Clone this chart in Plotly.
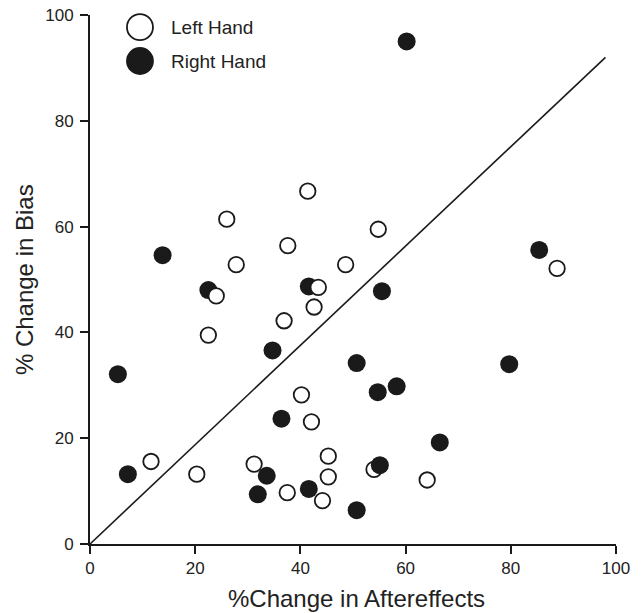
import plotly.graph_objects as go

# ---- data ----
left_x = [41.4, 26.0, 37.6, 27.8, 48.6, 54.8, 88.8, 24.0, 43.4, 42.6, 36.9, 22.5,
          40.2, 42.1, 45.3, 11.6, 31.2, 20.3, 45.3, 37.5, 44.2, 54.0, 64.1]
left_y = [66.7, 61.4, 56.4, 52.8, 52.8, 59.5, 52.1, 46.9, 48.5, 44.8, 42.2, 39.5,
          28.2, 23.1, 16.6, 15.6, 15.1, 13.2, 12.7, 9.7, 8.2, 14.1, 12.1]

# right-hand points drawn underneath the open circles
right_back_x = [22.5, 41.6]
right_back_y = [48.0, 48.7]
# right-hand points drawn on top
right_x = [13.8, 60.2, 85.4, 34.7, 50.7, 5.3, 36.4, 7.2, 33.6, 31.9, 41.6, 50.7,
           55.5, 79.7, 54.7, 58.3, 66.5, 55.1]
right_y = [54.6, 95.0, 55.6, 36.6, 34.2, 32.1, 23.7, 13.2, 12.9, 9.4, 10.4, 6.4,
           47.8, 34.0, 28.7, 29.8, 19.2, 14.9]

diag_x = [0, 98]
diag_y = [0, 92]

x_ticks = [0, 20, 40, 60, 80, 100]
y_ticks = [0, 20, 40, 60, 80, 100]

x_title = "%Change in Aftereffects"
y_title = "% Change in Bias"

INK = "#1a1a1a"
TXT = "#222"
FONT = "Liberation Sans, Arial, Helvetica, sans-serif"

fig = go.Figure()

fig.add_trace(go.Scatter(x=diag_x, y=diag_y, mode="lines",
                         line=dict(color=INK, width=1.6), showlegend=False,
                         hoverinfo="skip"))

fig.add_trace(go.Scatter(x=right_back_x, y=right_back_y, mode="markers",
                         marker=dict(size=18, color=INK, line=dict(width=0)),
                         showlegend=False, cliponaxis=False))

fig.add_trace(go.Scatter(x=left_x, y=left_y, mode="markers", name="Left Hand",
                         marker=dict(size=15.5, color="white",
                                     line=dict(color=INK, width=1.8)),
                         showlegend=False, cliponaxis=False))

fig.add_trace(go.Scatter(x=right_x, y=right_y, mode="markers", name="Right Hand",
                         marker=dict(size=18, color=INK, line=dict(width=0)),
                         showlegend=False, cliponaxis=False))

# manual legend (larger symbols than Plotly's legend allows)
leg_x = 0.095
leg_rows = [("Left Hand", 0.977, "white"), ("Right Hand", 0.913, INK)]
for label, yy, fill in leg_rows:
    fig.add_shape(type="circle", xref="paper", yref="paper",
                  xsizemode="pixel", ysizemode="pixel",
                  xanchor=leg_x, yanchor=yy,
                  x0=-13, x1=13, y0=-13, y1=13,
                  fillcolor=fill, line=dict(color=INK, width=1.8))
    fig.add_annotation(x=0.150, y=yy, xref="paper", yref="paper",
                       text=label, showarrow=False, xanchor="left",
                       yanchor="middle",
                       font=dict(size=19, color=TXT, family=FONT))

# axis titles placed as annotations for exact positioning
fig.add_annotation(x=0.506, y=-0.1027, xref="paper", yref="paper",
                   text=x_title, showarrow=False, xanchor="center",
                   yanchor="middle", font=dict(size=24, color=TXT, family=FONT))
fig.add_annotation(x=-0.1255, y=0.5007, xref="paper", yref="paper",
                   text=y_title, showarrow=False, xanchor="center",
                   yanchor="middle", textangle=-90,
                   font=dict(size=24, color=TXT, family=FONT))

axis_common = dict(
    showgrid=False, zeroline=False, showline=True, linecolor=INK, linewidth=2,
    ticks="outside", ticklen=8, tickwidth=2, tickcolor=INK,
    tickfont=dict(size=17, color=TXT, family=FONT),
    range=[0, 100], fixedrange=True, ticklabeloverflow="allow",
)

fig.update_xaxes(**axis_common, tickvals=x_ticks)
fig.update_yaxes(**axis_common, tickvals=y_ticks, ticklabelstandoff=3)

fig.update_layout(
    width=642, height=613,
    margin=dict(l=90, r=26, t=15, b=69, autoexpand=False),
    paper_bgcolor="white", plot_bgcolor="white",
    showlegend=False,
    font=dict(family=FONT, color=TXT),
)

# remove the default 8px page margin so the figure fills the window exactly
fig.write_html("out.html",
               config={"displayModeBar": False},
               post_script="document.body.style.margin='0';"
                           "document.body.style.overflow='hidden';")
